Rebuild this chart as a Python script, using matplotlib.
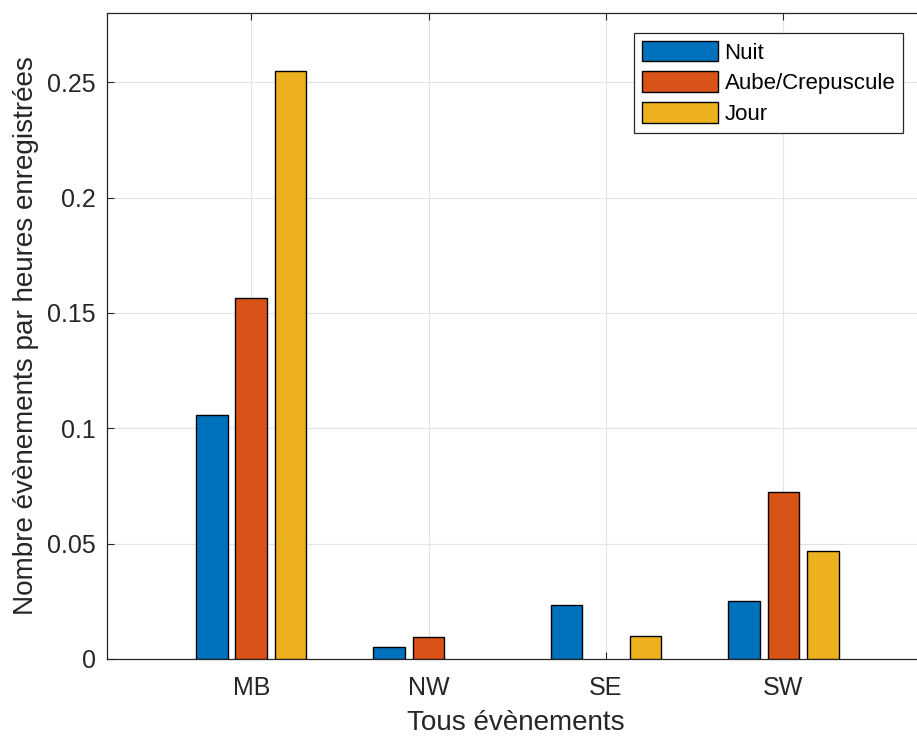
import matplotlib
matplotlib.use("Agg")
import matplotlib.pyplot as plt
import numpy as np

# donnees
sites = ["MB", "NW", "SE", "SW"]
series = ["Nuit", "Aube/Crepuscule", "Jour"]
nuit = [0.1058, 0.0054, 0.0233, 0.0252]
aube = [0.1563, 0.0096, 0.0, 0.0725]
jour = [0.2549, 0.0, 0.0100, 0.0469]
yticks = [0, 0.05, 0.1, 0.15, 0.2, 0.25]
ytick_labels = ["0", "0.05", "0.1", "0.15", "0.2", "0.25"]

couleurs = ["#0072BD", "#D95319", "#EDB120"]

plt.rcParams["font.family"] = ["Liberation Sans", "DejaVu Sans"]

fig = plt.figure(figsize=(9.17, 7.37), dpi=100)
ax = fig.add_axes([107/917, 78/737, 818.3/917, 646/737])

x = np.arange(1, len(sites) + 1)
offset = 0.2222
width = 0.178
for k, vals in enumerate([nuit, aube, jour]):
    # pas de contour pour les barres nulles (comme matlab)
    lw = [1.0 if v > 0 else 0 for v in vals]
    ax.bar(x + (k - 1)*offset, vals, width, color=couleurs[k],
           edgecolor="black", linewidth=lw, label=series[k], zorder=3)

ax.set_xlim(0.187, 4.8)
ax.set_ylim(0, 0.28)
ax.set_xticks(x)
ax.set_xticklabels(sites)
ax.set_yticks(yticks)
ax.set_yticklabels(ytick_labels)

ax.grid(True, color="#e3e3e3", linewidth=0.8, zorder=0)
ax.set_axisbelow(True)
for s in ax.spines.values():
    s.set_color("#262626")
    s.set_linewidth(0.9)

ax.tick_params(direction="in", length=5, width=0.8, colors="#262626",
               labelsize=18, top=True, right=True)
ax.tick_params(axis="x", pad=12.5)
ax.tick_params(axis="y", pad=8)

ax.set_xlabel("Tous évènements", fontsize=20.1, color="#262626", labelpad=7)
ax.set_ylabel("Nombre évènements par heures enregistrées", fontsize=20.1,
              color="#262626", labelpad=6)

leg = ax.legend(loc="upper right", bbox_to_anchor=(903/917, 1 - 33/737),
                bbox_transform=fig.transFigure, fontsize=16, fancybox=False,
                framealpha=1, edgecolor="#262626", handlelength=3.4,
                handleheight=1.05, handletextpad=0.3, labelspacing=0.35,
                borderpad=0.35, borderaxespad=0)
leg.get_frame().set_linewidth(0.9)
for h in leg.legend_handles:
    h.set_linewidth(1.0)

fig.savefig("out.png", dpi=100)
